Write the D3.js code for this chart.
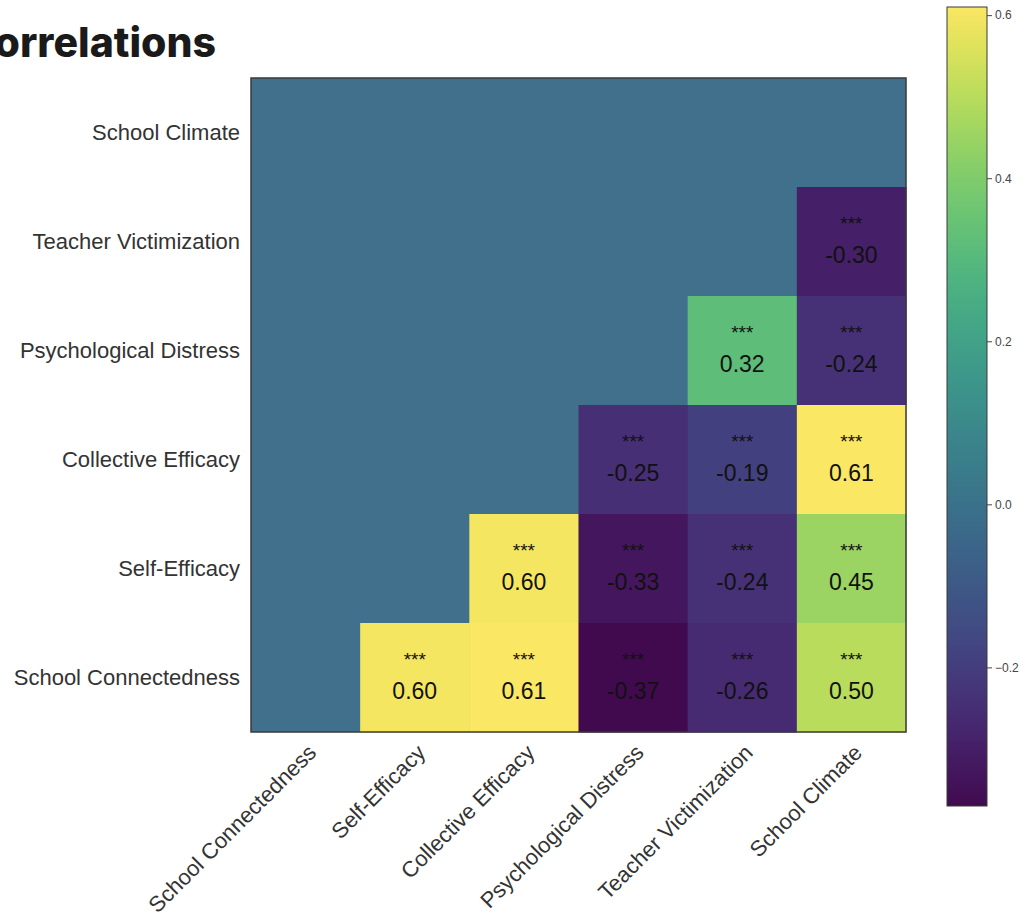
<!DOCTYPE html>
<html>
<head>
<meta charset="utf-8">
<script src="https://cdn.jsdelivr.net/npm/d3@7"></script>
<style>
  html, body { margin: 0; padding: 0; background: #fff; }
  svg { display: block; }
</style>
</head>
<body>
<svg id="chart" width="1028" height="916"></svg>
<script>
// Variables, in row order (top to bottom) and column order (left to right)
const rowVars = ["School Climate", "Teacher Victimization", "Psychological Distress",
                 "Collective Efficacy", "Self-Efficacy", "School Connectedness"];
const colVars = ["School Connectedness", "Self-Efficacy", "Collective Efficacy",
                 "Psychological Distress", "Teacher Victimization", "School Climate"];

// Correlations (null = masked upper triangle / diagonal)
const rowSchoolClimate        = [null, null, null, null, null, null];
const rowTeacherVictimization = [null, null, null, null, null, -0.30];
const rowPsychDistress        = [null, null, null, null, 0.32, -0.24];
const rowCollectiveEfficacy   = [null, null, null, -0.25, -0.19, 0.61];
const rowSelfEfficacy         = [null, null, 0.60, -0.33, -0.24, 0.45];
const rowSchoolConnectedness  = [null, 0.60, 0.61, -0.37, -0.26, 0.50];

// Significance stars for each cell
const stars = "***";

const colorTicks = [0.6, 0.4, 0.2, 0.0, -0.2];
const colorDomain = [-0.37, 0.61];

const matrix = [rowSchoolClimate, rowTeacherVictimization, rowPsychDistress,
                rowCollectiveEfficacy, rowSelfEfficacy, rowSchoolConnectedness];

const cells = [];
matrix.forEach((row, i) => row.forEach((v, j) => {
  cells.push({ row: rowVars[i], col: colVars[j], value: v });
}));

const svg = d3.select("#chart");
const plot = { left: 251, top: 78, right: 906, bottom: 732 };

const x = d3.scaleBand().domain(colVars).range([plot.left, plot.right]);
const y = d3.scaleBand().domain(rowVars).range([plot.top, plot.bottom]);
const color = d3.scaleSequential(d3.interpolateViridis).domain(colorDomain);
const maskColor = "#40708c";

const defs = svg.append("defs");
// slightly muted colour rendering
defs.append("filter").attr("id", "muted")
  .append("feColorMatrix").attr("type", "saturate").attr("values", 0.86);

// Title (left part runs off the page edge)
svg.append("text")
  .attr("x", 216).attr("y", 57)
  .attr("text-anchor", "end")
  .attr("font-family", "Inter, 'Open Sans', sans-serif")
  .attr("font-weight", 800)
  .attr("font-size", 41)
  .attr("fill", "#1a1a1a")
  .text("Correlations");

// Heatmap cells
const g = svg.append("g");
g.append("rect")
  .attr("x", plot.left).attr("y", plot.top)
  .attr("width", plot.right - plot.left).attr("height", plot.bottom - plot.top)
  .attr("fill", maskColor);

const filled = cells.filter(d => d.value !== null);
g.append("g").attr("filter", "url(#muted)")
  .selectAll("rect.cell").data(filled).join("rect")
  .attr("class", "cell")
  .attr("x", d => x(d.col)).attr("y", d => y(d.row))
  .attr("width", x.bandwidth() + 0.5).attr("height", y.bandwidth() + 0.5)
  .attr("fill", d => color(d.value));

const font = "'Liberation Sans', Arial, sans-serif";

g.selectAll("text.stars").data(filled).join("text")
  .attr("class", "stars")
  .attr("x", d => x(d.col) + x.bandwidth() / 2)
  .attr("y", d => y(d.row) + 43)
  .attr("text-anchor", "middle")
  .attr("font-family", font).attr("font-size", 19)
  .attr("fill", "#111")
  .text(stars);

g.selectAll("text.val").data(filled).join("text")
  .attr("class", "val")
  .attr("x", d => x(d.col) + x.bandwidth() / 2)
  .attr("y", d => y(d.row) + 76)
  .attr("text-anchor", "middle")
  .attr("font-family", font).attr("font-size", 23)
  .attr("fill", "#111")
  .text(d => d.value.toFixed(2));

// Frame
svg.append("rect")
  .attr("x", plot.left).attr("y", plot.top)
  .attr("width", plot.right - plot.left).attr("height", plot.bottom - plot.top)
  .attr("fill", "none").attr("stroke", "#3a3a3a").attr("stroke-width", 1.5);

// Row labels
svg.append("g").selectAll("text").data(rowVars).join("text")
  .attr("x", plot.left - 11)
  .attr("y", d => y(d) + y.bandwidth() / 2)
  .attr("dy", "0.35em")
  .attr("text-anchor", "end")
  .attr("font-family", font).attr("font-size", 22)
  .attr("fill", "#333")
  .text(d => d);

// Column labels, rotated
svg.append("g").selectAll("text").data(colVars).join("text")
  .attr("transform", d => `translate(${x(d) + x.bandwidth() / 2 + 12},${plot.bottom + 22}) rotate(-45)`)
  .attr("text-anchor", "end")
  .attr("font-family", font).attr("font-size", 22)
  .attr("fill", "#333")
  .text(d => d);

// Colour bar
const cb = { x: 947, w: 40, top: 7, bottom: 806 };
const cy = d3.scaleLinear().domain(colorDomain).range([cb.bottom, cb.top]);
const grad = defs.append("linearGradient").attr("id", "cbar")
  .attr("x1", 0).attr("y1", 1).attr("x2", 0).attr("y2", 0);
d3.range(0, 1.0001, 0.05).forEach(t => {
  grad.append("stop").attr("offset", t).attr("stop-color", d3.interpolateViridis(t));
});
svg.append("rect")
  .attr("x", cb.x).attr("y", cb.top)
  .attr("width", cb.w).attr("height", cb.bottom - cb.top)
  .attr("fill", "url(#cbar)")
  .attr("filter", "url(#muted)");
svg.append("rect")
  .attr("x", cb.x).attr("y", cb.top)
  .attr("width", cb.w).attr("height", cb.bottom - cb.top)
  .attr("fill", "none")
  .attr("stroke", "#3a3a3a").attr("stroke-width", 1);

const cAxis = d3.axisRight(cy).tickValues(colorTicks).tickSize(5).tickPadding(3)
  .tickFormat(d3.format(".1f"));
svg.append("g")
  .attr("transform", `translate(${cb.x + cb.w},0)`)
  .call(cAxis)
  .call(s => s.select(".domain").remove())
  .call(s => s.selectAll("line").attr("stroke", "#444"))
  .call(s => s.selectAll("text").attr("font-family", font).attr("font-size", 12).attr("fill", "#444"));
</script>
</body>
</html>
